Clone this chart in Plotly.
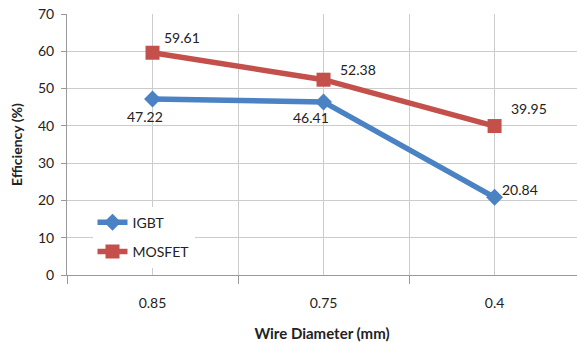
import plotly.graph_objects as go

categories = ["0.85", "0.75", "0.4"]
igbt = [47.22, 46.41, 20.84]
mosfet = [59.61, 52.38, 39.95]
y_ticks = [0, 10, 20, 30, 40, 50, 60, 70]

BLUE = "#4a82c4"
RED = "#c4504c"
FONT = "Lato"

xpos = list(range(len(categories)))

fig = go.Figure()
fig.add_trace(go.Scatter(
    x=xpos, y=igbt, name="IGBT", mode="lines+markers", legendgroup="a",
    line=dict(color=BLUE, width=5.5),
    marker=dict(symbol="diamond", size=13, color=BLUE),
))
fig.add_trace(go.Scatter(
    x=xpos, y=mosfet, name="MOSFET", mode="lines+markers", legendgroup="b",
    line=dict(color=RED, width=5.5),
    marker=dict(symbol="square", size=14, color=RED),
))

# label offsets (px) relative to points
igbt_off = [(-8, 18), (-13, 16), (25, -8)]
mos_off = [(29, -15), (34, -10), (34, -18)]
for series, offs in ((igbt, igbt_off), (mosfet, mos_off)):
    for i, v in enumerate(series):
        fig.add_annotation(
            x=xpos[i], y=v, text=f"{v:.2f}", showarrow=False,
            xshift=offs[i][0], yshift=-offs[i][1],
            font=dict(family=FONT, size=14, color="#222"),
        )

grid = "#cccccc"
fig.update_layout(
    width=577, height=342,
    margin=dict(l=67, r=0, t=14, b=67),
    plot_bgcolor="white", paper_bgcolor="white",
    font=dict(family=FONT, size=14, color="#222"),
    showlegend=True,
    legend=dict(
        x=0.05, y=0.262, xanchor="left", yanchor="top",
        bgcolor="white", borderwidth=0, traceorder="grouped",
        font=dict(family=FONT, size=14, color="#222"),
        tracegroupgap=8, itemwidth=30,
    ),
    xaxis=dict(
        range=[-0.5, 2.482],
        tickmode="array", tickvals=xpos, ticktext=categories,
        ticks="", showgrid=True, gridcolor=grid, gridwidth=1,
        showline=True, linecolor="#999", linewidth=1, zeroline=False,
        ticklabelstandoff=15,
        minor=dict(tickmode="array", tickvals=[-0.5, 0.5, 1.5, 2.5],
                   ticks="outside", ticklen=8, tickcolor="#999",
                   showgrid=True, gridcolor=grid, gridwidth=1),
        title=dict(text="<b>Wire Diameter (mm)</b>", standoff=19,
                   font=dict(family=FONT, size=15, color="#222")),
    ),
    yaxis=dict(
        range=[0, 70], tickmode="array", tickvals=y_ticks,
        ticks="outside", ticklen=5, tickcolor="#999",
        showgrid=True, gridcolor=grid, gridwidth=1,
        showline=True, linecolor="#999", linewidth=1,
        zeroline=False, ticklabelstandoff=4,
        title=dict(text="<b>Efficiency (%)</b>", standoff=12,
                   font=dict(family=FONT, size=14, color="#222")),
    ),
)

fig.write_html("out.html")
